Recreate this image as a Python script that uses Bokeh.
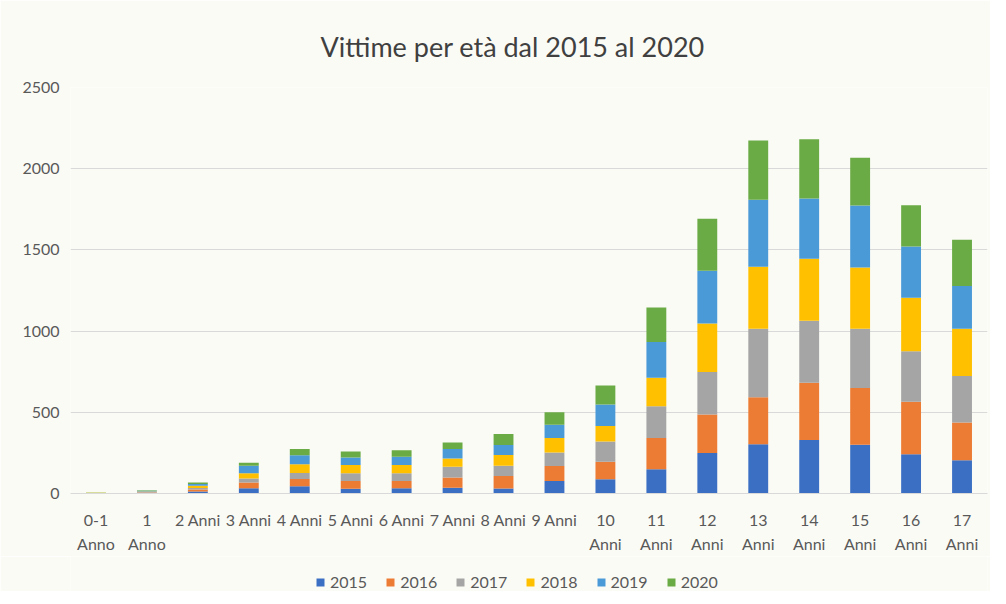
from bokeh.plotting import figure
from bokeh.layouts import column
from bokeh.models import Legend, LegendItem, FixedTicker, Range1d
from bokeh.embed import file_html
from bokeh.resources import INLINE

categories = ["0-1\nAnno", "1\nAnno", "2 Anni", "3 Anni", "4 Anni", "5 Anni", "6 Anni",
              "7 Anni", "8 Anni", "9 Anni", "10\nAnni", "11\nAnni", "12\nAnni", "13\nAnni",
              "14\nAnni", "15\nAnni", "16\nAnni", "17\nAnni"]
years = ["2015", "2016", "2017", "2018", "2019", "2020"]
v2015 = [1, 3, 12, 33, 44, 30, 32, 36, 31, 77, 88, 150, 249, 303, 329, 300, 241, 204]
v2016 = [1, 3, 12, 35, 46, 47, 45, 62, 77, 93, 107, 191, 237, 289, 353, 349, 324, 233]
v2017 = [1, 3, 10, 25, 36, 48, 48, 66, 63, 82, 125, 196, 262, 423, 381, 366, 311, 287]
v2018 = [1, 4, 14, 31, 54, 50, 50, 51, 66, 89, 95, 176, 299, 381, 382, 376, 329, 291]
v2019 = [1, 4, 10, 47, 56, 47, 51, 59, 62, 83, 133, 220, 325, 413, 371, 382, 316, 263]
v2020 = [1, 3, 10, 18, 38, 37, 41, 40, 67, 76, 117, 213, 320, 365, 365, 295, 254, 284]
colors = ["#3b6fc4", "#ec7b33", "#a5a5a5", "#ffc000", "#4a9ad8", "#6aab45"]
title_text = "Vittime per età dal 2015 al 2020"

FONT = "Lato"
BG = "#fbfbf6"
TXT = "#595959"

data = {"cat": categories}
for y, vals in zip(years, [v2015, v2016, v2017, v2018, v2019, v2020]):
    data[y] = vals

p = figure(x_range=categories, y_range=Range1d(0, 2500),
           frame_width=917, frame_height=406,
           output_backend="svg", toolbar_location=None,
           min_border_left=70, min_border_right=3, min_border_top=87, min_border_bottom=60)

p.vbar_stack(years, x="cat", width=0.39, source=data, color=colors, line_color=None)

p.title.text = title_text
p.title.align = "left"
p.title.text_font = FONT
p.title.text_font_size = "27px"
p.title.text_font_style = "normal"
p.title.text_color = "#404040"
p.title.offset = 250
p.title.standoff = 50

p.background_fill_color = BG
p.border_fill_color = BG
p.outline_line_color = None

p.yaxis.ticker = FixedTicker(ticks=[0, 500, 1000, 1500, 2000, 2500])
p.yaxis.axis_line_color = None
p.yaxis.major_tick_line_color = None
p.yaxis.minor_tick_line_color = None
p.yaxis.major_label_text_font = FONT
p.yaxis.major_label_text_font_size = "16px"
p.yaxis.major_label_text_color = TXT
p.yaxis.major_label_standoff = 5

p.xaxis.axis_line_color = "#d9d9d9"
p.xaxis.major_tick_line_color = None
p.xaxis.minor_tick_line_color = None
p.xaxis.major_label_text_font = FONT
p.xaxis.major_label_text_font_size = "16px"
p.xaxis.major_label_text_line_height = 1.3
p.xaxis.major_label_text_color = TXT
p.xaxis.major_label_standoff = 10

p.xgrid.grid_line_color = None
p.ygrid.grid_line_color = "#d9d9d9"
p.ygrid.ticker = FixedTicker(ticks=[500, 1000, 1500, 2000, 2500])

# legend strip below the chart
lg = figure(width=990, height=35, output_backend="svg", toolbar_location=None,
            x_axis_location=None, y_axis_location=None,
            min_border_left=0, min_border_right=0, min_border_top=0, min_border_bottom=0,
            x_range=Range1d(0, 1), y_range=Range1d(0, 1))
lg.grid.visible = False
lg.outline_line_color = None
lg.background_fill_color = BG
lg.border_fill_color = BG
dummy = [lg.vbar(x=[-10], top=[0], width=0.5, color=c, line_color=None) for c in colors]
items = [LegendItem(label=y, renderers=[r]) for y, r in zip(years, dummy)]
legend = Legend(items=items, orientation="horizontal", location=(245, 0),
                label_text_font=FONT, label_text_font_size="16px",
                label_text_color=TXT, glyph_width=10, glyph_height=10,
                spacing=18, label_standoff=5, padding=0, margin=0,
                background_fill_alpha=0, border_line_color=None)
lg.add_layout(legend, "center")

layout = column(p, lg, spacing=0)
open("out.html", "w").write(file_html(layout, INLINE))
